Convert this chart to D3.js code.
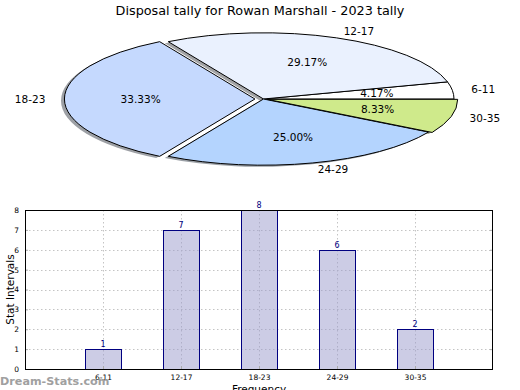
<!DOCTYPE html>
<html><head><meta charset="utf-8">
<script src="https://cdn.jsdelivr.net/npm/d3@7"></script>
<style>
html,body{margin:0;padding:0;background:#fff;}
svg{display:block;font-family:"DejaVu Sans",sans-serif;}
</style></head>
<body>
<svg id="c" width="520" height="390"></svg>
<script>
const categories = ["6-11","12-17","18-23","24-29","30-35"];
const counts = [1,7,8,6,2];
const pieColors = ["#ffffff","#eaf1fe","#c5d9fe","#b4d4fe","#cfea8b"];
const explode = [0,0,0.045,0,0.02];
const yTicks = [0,1,2,3,4,5,6,7,8];
const title = "Disposal tally for Rowan Marshall - 2023 tally";

const svg = d3.select("#c");

// ---------- Title ----------
svg.append("text").attr("x",260).attr("y",14.5).attr("text-anchor","middle")
  .attr("font-size",12.8).attr("fill","#000").text(title);

// ---------- Pie ----------
const cx = 263.5, cy = 99, Rx = 190.5, Ry = 66.2, sy = Ry/Rx;
const total = d3.sum(counts);
const pie = d3.pie().sort(null).startAngle(Math.PI/2).endAngle(Math.PI/2 - 2*Math.PI);
const arcs = pie(counts);
const arc = d3.arc().innerRadius(0).outerRadius(Rx);
const gPie = svg.append("g");

function offset(d,i){
  const mid = (d.startAngle + d.endAngle)/2;
  const e = explode[i];
  return [Math.sin(mid)*e*Rx, -Math.cos(mid)*e*Ry];
}
// shadows
arcs.forEach((d,i)=>{
  const [ox,oy] = offset(d,i);
  const c = d3.rgb(pieColors[i]);
  gPie.append("path")
    .attr("d", arc(d))
    .attr("transform",`translate(${cx+ox-0.018*Rx},${cy+oy+0.025*Ry}) scale(1,${sy})`)
    .attr("fill", d3.rgb(c.r*0.3,c.g*0.3,c.b*0.3))
    .attr("fill-opacity",0.5);
});
arcs.forEach((d,i)=>{
  const [ox,oy] = offset(d,i);
  gPie.append("path")
    .attr("d", arc(d))
    .attr("transform",`translate(${cx+ox},${cy+oy}) scale(1,${sy})`)
    .attr("fill", pieColors[i])
    .attr("stroke","#000").attr("stroke-width",1)
    .attr("vector-effect","non-scaling-stroke")
    .attr("stroke-linejoin","miter");
});
arcs.forEach((d,i)=>{
  const mid = (d.startAngle + d.endAngle)/2;
  const [ox,oy] = offset(d,i);
  const sx = Math.sin(mid), cyy = -Math.cos(mid);
  gPie.append("text")
    .attr("x", cx+ox+sx*1.1*Rx).attr("y", cy+oy+cyy*1.1*Ry)
    .attr("dy","0.35em")
    .attr("text-anchor", sx>0 ? "start":"end")
    .attr("font-size",10.5).attr("fill","#000")
    .text(categories[i]);
  gPie.append("text")
    .attr("x", cx+ox+sx*0.6*Rx).attr("y", cy+oy+cyy*0.6*Ry)
    .attr("dy","0.35em")
    .attr("text-anchor","middle")
    .attr("font-size",10.5).attr("fill","#000")
    .text((counts[i]/total*100).toFixed(2)+"%");
});

// ---------- Bar chart ----------
const L=25, R=493, T=210, B=369;
const x = d3.scaleLinear().domain([0,6]).range([L,R]);
const y = d3.scaleLinear().domain([0,8]).range([B,T]);
const bw = 36;
const gBar = svg.append("g");

// grid (behind semi-transparent bars)
const grid = gBar.append("g").attr("stroke","#c4c4c4").attr("stroke-dasharray","1.5,2.5").attr("stroke-width",1);
yTicks.slice(1,-1).forEach(t=>{
  grid.append("line").attr("x1",L).attr("x2",R).attr("y1",Math.round(y(t))+0.5).attr("y2",Math.round(y(t))+0.5);
});
categories.forEach((c,i)=>{
  grid.append("line").attr("x1",Math.round(x(i+1))+0.5).attr("x2",Math.round(x(i+1))+0.5).attr("y1",T).attr("y2",B);
});

gBar.selectAll("rect.bar").data(counts).enter().append("rect")
  .attr("x",(d,i)=>Math.round(x(i+1)-bw/2)+0.5).attr("y",d=>Math.round(y(d))+0.5)
  .attr("width",bw).attr("height",d=>Math.round(y(0))-Math.round(y(d)))
  .attr("fill","#9999cc").attr("fill-opacity",0.5)
  .attr("stroke","#000080").attr("stroke-width",1);

// ticks
const yAxisL = d3.axisLeft(y).tickValues(yTicks).tickSize(-3).tickPadding(6).tickFormat(d3.format("d"));
const gy = gBar.append("g").attr("transform",`translate(${L},0)`).call(yAxisL);
gy.select(".domain").remove();
gy.selectAll("text").attr("font-size",7.5).attr("font-family","DejaVu Sans").attr("fill","#000");
gy.selectAll("line").attr("stroke","#aaa");
const yAxisR = d3.axisRight(y).tickValues(yTicks).tickSize(-3).tickFormat("");
const gy2 = gBar.append("g").attr("transform",`translate(${R},0)`).call(yAxisR);
gy2.select(".domain").remove();
gy2.selectAll("line").attr("stroke","#aaa");

const xAxis = d3.axisBottom(x).tickValues(categories.map((c,i)=>i+1)).tickSize(-3).tickPadding(6)
  .tickFormat((d)=>categories[d-1]);
const gx = gBar.append("g").attr("transform",`translate(0,${B})`).call(xAxis);
gx.select(".domain").remove();
gx.selectAll("text").attr("font-size",7.5).attr("font-family","DejaVu Sans").attr("fill","#000");
gx.selectAll("line").attr("stroke","#aaa");

// frame
gBar.append("rect").attr("x",L+0.5).attr("y",T+0.5).attr("width",R-L-1).attr("height",B-T)
  .attr("fill","none").attr("stroke","#000").attr("stroke-width",1);

// value labels
gBar.selectAll("text.val").data(counts).enter().append("text")
  .attr("x",(d,i)=>x(i+1)).attr("y",d=>y(d)-2)
  .attr("text-anchor","middle").attr("font-size",8).attr("fill","#000080")
  .text(d=>d);

// axis labels
svg.append("text").attr("transform",`translate(10,${(T+B)/2}) rotate(-90)`)
  .attr("dy","0.35em")
  .attr("text-anchor","middle").attr("font-size",10.5).attr("fill","#000").text("Stat Intervals");
svg.append("text").attr("x",(L+R)/2).attr("y",393)
  .attr("text-anchor","middle").attr("font-size",10.5).attr("fill","#000").text("Frequency");

// watermark
svg.append("text").attr("x",0).attr("y",385).attr("font-size",11.2).attr("font-weight","bold")
  .attr("fill","#a0a0a0").attr("font-family","DejaVu Sans").text("Dream-Stats.com");
</script>
</body></html>
